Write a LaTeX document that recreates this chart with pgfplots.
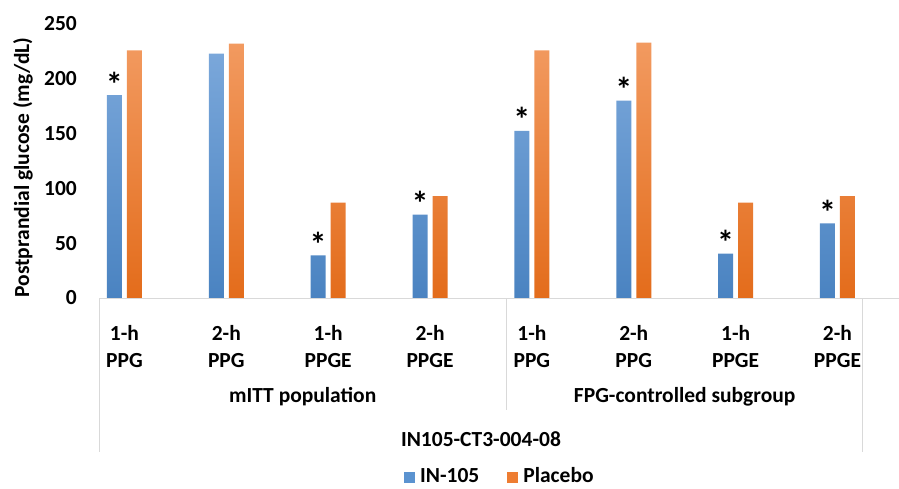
\documentclass[border=0pt]{standalone}
\usepackage{pgfplots}
\pgfplotsset{compat=1.18}
\usepackage{fontspec}
\setmainfont{Carlito}
\definecolor{bluetop}{HTML}{7AA7DA}
\definecolor{bluebot}{HTML}{4A83C1}
\definecolor{orgtop}{HTML}{F29A60}
\definecolor{orgbot}{HTML}{E36C1B}
\definecolor{bluemid}{HTML}{5B93D0}
\definecolor{orgmid}{HTML}{EE7D32}
\definecolor{axgray}{HTML}{D9D9D9}
\newcommand{\lab}{\fontsize{21.5}{27}\selectfont\bfseries}
\begin{document}
\begin{tikzpicture}
\begin{axis}[
  at={(99pt,190pt)}, anchor=south west,
  scale only axis, width=800pt, height=274pt,
  xmin=-0.25, xmax=7.604, ymin=0, ymax=250,
  ybar, bar width=15pt,
  clip=false,
  axis line style={draw=none},
  major tick style={draw=none},
  ytick={0,50,...,250},
  yticklabel style={font=\lab, inner sep=0pt},
  yticklabel shift=22pt,
  /pgf/number format/assume math mode=true,
  xtick={0,...,7},
  xticklabels={{1-h\\PPG},{2-h\\PPG},{1-h\\PPGE},{2-h\\PPGE},{1-h\\PPG},{2-h\\PPG},{1-h\\PPGE},{2-h\\PPGE}},
  xticklabel style={font=\lab, align=center, inner sep=0pt, anchor=north, yshift=-22.5pt},
]
\addplot[bar shift=-10pt, draw=none, top color=bluetop, bottom color=bluebot,
  nodes near coords, point meta=explicit symbolic,
  nodes near coords style={font=\fontsize{34}{34}\selectfont\bfseries, inner sep=0pt, anchor=south, yshift=-1pt, text=black}]
  coordinates {(0,185) [*] (1,223) [] (2,39) [*] (3,76) [*] (4,152.5) [*] (5,180) [*] (6,40.5) [*] (7,68) [*]};
\addplot[bar shift=10pt, draw=none, top color=orgtop, bottom color=orgbot]
  coordinates {(0,226) (1,232) (2,87) (3,93) (4,226) (5,233) (6,87) (7,93)};
% axis and separator lines
\draw[axgray, line width=1pt] (axis cs:-0.25,0) -- (axis cs:7.604,0);
\draw[axgray, line width=1pt] (axis cs:-0.25,0) -- ([yshift=-154pt]axis cs:-0.25,0);
\draw[axgray, line width=1pt] (axis cs:3.75,0) -- ([yshift=-112pt]axis cs:3.75,0);
\draw[axgray, line width=1pt] (axis cs:7.25,0) -- ([yshift=-154pt]axis cs:7.25,0);
% group labels
\node[font=\lab, anchor=center] at ([yshift=-99pt]axis cs:1.75,0) {mITT population};
\node[font=\lab, anchor=center] at ([yshift=-99pt]axis cs:5.5,0) {FPG-controlled subgroup};
\node[font=\lab, anchor=base] at ([yshift=-148pt]axis cs:3.5,0) {IN105-CT3-004-08};
\end{axis}
% legend
\node[font=\lab, anchor=base west, inner sep=0pt] at (404pt,5.5pt)
  {\textcolor{bluemid}{\rule{11pt}{11pt}}\hspace{5pt}IN-105\hspace{28pt}\textcolor{orgmid}{\rule{11pt}{11pt}}\hspace{5pt}Placebo};
\node[font=\lab, rotate=90, anchor=base, inner sep=0pt] at (29pt,320.5pt) {Postprandial glucose (mg/dL)};
\pgfresetboundingbox
\useasboundingbox (0,0) rectangle (899pt,488pt);
\end{tikzpicture}
\end{document}
